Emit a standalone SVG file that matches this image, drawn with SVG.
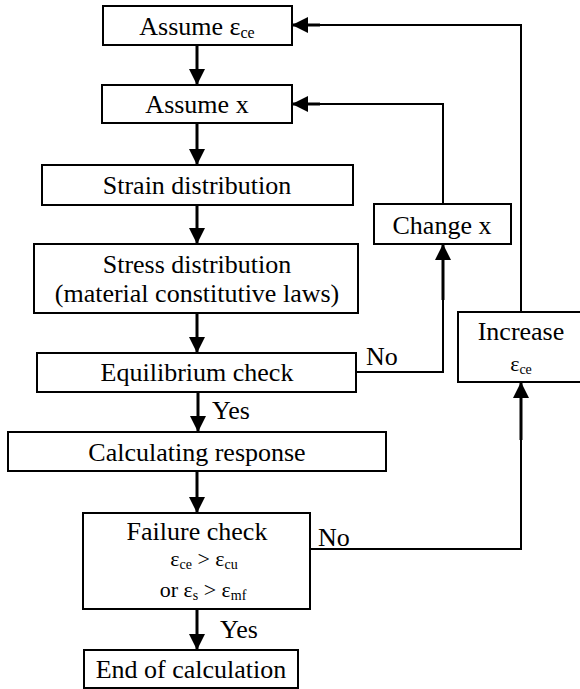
<svg xmlns="http://www.w3.org/2000/svg" width="580" height="689" viewBox="0 0 580 689">
<defs>
<style>
text{font-family:'Liberation Serif','Times New Roman',Tinos,'DejaVu Serif',serif;fill:#000}
.box{fill:#fff;stroke:#000;stroke-width:2}
.t{font-size:26px;text-anchor:middle}
.s{font-size:22px;text-anchor:middle}
.l{font-size:26px}
.main{fill:none;stroke:#000;stroke-width:3}
.thin{fill:none;stroke:#000;stroke-width:2}
</style>
<marker id="ah" viewBox="0 0 16 16" refX="16" refY="8" markerWidth="16" markerHeight="16" markerUnits="userSpaceOnUse" orient="auto">
<path d="M0,0 L16,8 L0,16 Z" fill="#000"/>
</marker>
</defs>
<rect width="580" height="689" fill="#fff"/>
<g id="connectors">
<line class="main" x1="197" y1="45" x2="197" y2="85" marker-end="url(#ah)"/>
<line class="main" x1="197" y1="123" x2="197" y2="165" marker-end="url(#ah)"/>
<line class="main" x1="197" y1="205" x2="197" y2="244" marker-end="url(#ah)"/>
<line class="main" x1="197" y1="313" x2="197" y2="353" marker-end="url(#ah)"/>
<line class="main" x1="198" y1="392" x2="198" y2="432" marker-end="url(#ah)"/>
<line class="main" x1="197" y1="471" x2="197" y2="513" marker-end="url(#ah)"/>
<line class="main" x1="197" y1="609" x2="197" y2="650" marker-end="url(#ah)"/>
<polyline class="thin" points="356,372 443,372 443,260"/>
<line class="main" x1="443" y1="300" x2="443" y2="244" marker-end="url(#ah)"/>
<polyline class="thin" points="443,204 443,104 310,104"/>
<line class="main" x1="320" y1="104" x2="292" y2="104" marker-end="url(#ah)"/>
<polyline class="thin" points="310,549 521,549 521,400"/>
<line class="main" x1="521" y1="440" x2="521" y2="382" marker-end="url(#ah)"/>
<polyline class="thin" points="521,312 521,25 310,25"/>
<line class="main" x1="320" y1="25" x2="292" y2="25" marker-end="url(#ah)"/>
<text class="l" x="366" y="365" font-family="Liberation Serif, serif">No</text>
<text class="l" x="318" y="546" font-family="Liberation Serif, serif">No</text>
<text class="l" x="212" y="419" font-family="Liberation Serif, serif">Yes</text>
<text class="l" x="220" y="638" font-family="Liberation Serif, serif">Yes</text>
</g>
<g id="assume-eps">
<rect class="box" x="103" y="6" width="189" height="39"/>
<text class="t" x="197" y="35" font-family="Liberation Serif, serif">Assume ε<tspan font-size="16" dy="3">ce</tspan></text>
</g>
<g id="assume-x">
<rect class="box" x="102" y="85" width="190" height="38"/>
<text class="t" x="197" y="113" font-family="Liberation Serif, serif">Assume x</text>
</g>
<g id="strain">
<rect class="box" x="42" y="165" width="311" height="40"/>
<text class="t" x="197" y="194" font-family="Liberation Serif, serif">Strain distribution</text>
</g>
<g id="stress">
<rect class="box" x="34" y="244" width="324" height="69"/>
<text class="t" x="197" y="273" font-family="Liberation Serif, serif">Stress distribution</text>
<text class="t" x="197" y="302" font-family="Liberation Serif, serif">(material constitutive laws)</text>
</g>
<g id="equilibrium">
<rect class="box" x="37" y="353" width="319" height="39"/>
<text class="t" x="197" y="381" font-family="Liberation Serif, serif">Equilibrium check</text>
</g>
<g id="calculating">
<rect class="box" x="8" y="432" width="378" height="39"/>
<text class="t" x="197" y="461" font-family="Liberation Serif, serif">Calculating response</text>
</g>
<g id="failure">
<rect class="box" x="83" y="513" width="227" height="96"/>
<text class="t" x="197" y="540" font-family="Liberation Serif, serif">Failure check</text>
<text class="s" x="204" y="566" font-family="Liberation Serif, serif">ε<tspan font-size="14" dy="3">ce</tspan><tspan dy="-3"> &gt; ε</tspan><tspan font-size="14" dy="3">cu</tspan></text>
<text class="s" x="203" y="597" font-family="Liberation Serif, serif">or ε<tspan font-size="14" dy="3">s</tspan><tspan dy="-3"> &gt; ε</tspan><tspan font-size="14" dy="3">mf</tspan></text>
</g>
<g id="end">
<rect class="box" x="84" y="650" width="214" height="38"/>
<text class="t" x="191" y="678" font-family="Liberation Serif, serif">End of calculation</text>
</g>
<g id="change-x">
<rect class="box" x="374" y="204" width="137" height="40"/>
<text class="t" x="442" y="234" font-family="Liberation Serif, serif">Change x</text>
</g>
<g id="increase">
<rect class="box" x="458" y="312" width="130" height="70"/>
<text class="t" x="521" y="340" font-family="Liberation Serif, serif">Increase</text>
<text class="s" x="521" y="371" font-family="Liberation Serif, serif">ε<tspan font-size="14" dy="3">ce</tspan></text>
</g>
</svg>
